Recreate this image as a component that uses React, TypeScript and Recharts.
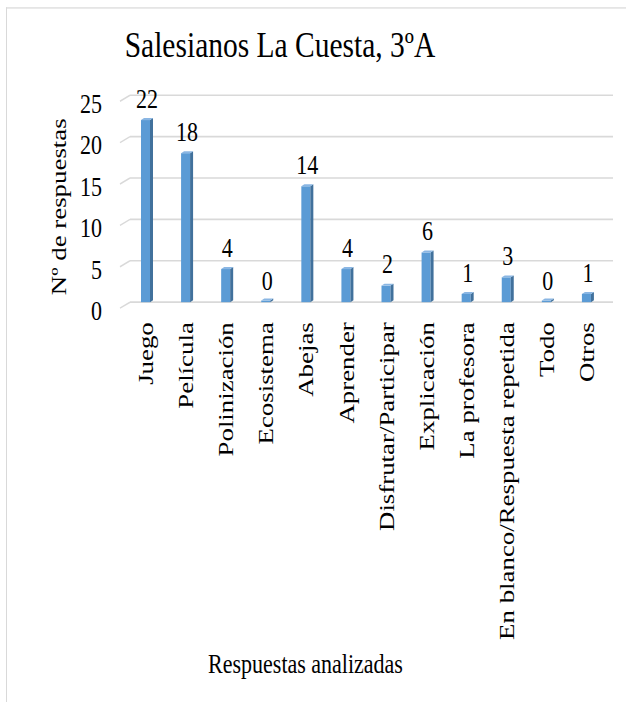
import { BarChart, Bar, XAxis, YAxis, CartesianGrid, LabelList, Label } from "recharts";

const categories = [
  "Juego",
  "Película",
  "Polinización",
  "Ecosistema",
  "Abejas",
  "Aprender",
  "Disfrutar/Participar",
  "Explicación",
  "La profesora",
  "En blanco/Respuesta repetida",
  "Todo",
  "Otros",
];
const respuestas = [22, 18, 4, 0, 14, 4, 2, 6, 1, 3, 0, 1];
const yTicks = [0, 5, 10, 15, 20, 25];

const chartData = categories.map((name, i) => ({ name, value: respuestas[i] }));

const FONT = "Liberation Serif, Times New Roman, serif";
// the source picture is stretched vertically, so the chart is drawn shorter and scaled up
const H = 575;
const STRETCH = 702 / H;

// 3D-ish column like the Excel one: front face, darker right side, lighter top
const Column3D = (props: any) => {
  const { x, y, width, height } = props;
  const depth = 3;
  const skew = 1.6;
  const front = width - depth;
  const h = Math.max(height, 1.3);
  const top = y + height - h;
  return (
    <g>
      <rect x={x} y={top} width={front} height={h} fill="#5B9BD5" />
      <polygon
        points={`${x + front},${top} ${x + width},${top - skew} ${x + width},${top + h - skew} ${x + front},${top + h}`}
        fill="#41719C"
      />
      <polygon
        points={`${x},${top} ${x + depth},${top - skew} ${x + width},${top - skew} ${x + front},${top}`}
        fill="#8AB6E3"
      />
    </g>
  );
};

const GridLine = (props: any) => {
  const { x1, x2, y1 } = props;
  return (
    <g>
      <line x1={x1 + 3} x2={x2 + 5} y1={y1} y2={y1} stroke="#D9D9D9" strokeWidth={1.3} />
      <line x1={x1 - 7} x2={x1 + 3} y1={y1 + 4.9} y2={y1} stroke="#D9D9D9" strokeWidth={1.3} />
    </g>
  );
};

const YTick = (props: any) => {
  const { x, y, payload } = props;
  return (
    <text x={x} y={y + 7} textAnchor="end" dominantBaseline="central" fontFamily={FONT} fontSize={22} fill="#000">
      {payload.value}
    </text>
  );
};

const XTick = (props: any) => {
  const { x, y, payload } = props;
  return (
    <text
      x={x - 1.5}
      y={y}
      transform={`rotate(-90 ${x - 1.5} ${y})`}
      textAnchor="end"
      dominantBaseline="central"
      fontFamily={FONT}
      fontSize={22}
      fill="#000"
    >
      {payload.value}
    </text>
  );
};

export default function App() {
  return (
    <div style={{ position: "absolute", left: 0, top: 0, width: 626, height: 702, overflow: "hidden", background: "#fff" }}>
      <div
        style={{
          position: "absolute",
          left: 0,
          top: 0,
          width: 626,
          height: H,
          transform: `scaleY(${STRETCH})`,
          transformOrigin: "0 0",
        }}
      >
        <div
          style={{
            position: "absolute",
            left: 6,
            top: 5.8,
            width: 620,
            height: H - 5.8,
            borderTop: "1.3px solid #D9D9D9",
            borderLeft: "1.5px solid #D9D9D9",
            boxSizing: "border-box",
          }}
        />
        <div
          style={{
            position: "absolute",
            left: 3,
            top: 21.5,
            width: 554,
            textAlign: "center",
            fontFamily: FONT,
            fontSize: 29.5,
            lineHeight: "30px",
            color: "#000",
            whiteSpace: "nowrap",
          }}
        >
          Salesianos La Cuesta, 3ºA
        </div>
        <div style={{ position: "absolute", left: 0, top: 0 }}>
          <BarChart
            width={626}
            height={H}
            data={chartData}
            margin={{ top: 78, right: 18, left: 0, bottom: 0 }}
            barCategoryGap={0}
          >
            <CartesianGrid vertical={false} horizontal={(p: any) => <GridLine key={p.key} {...p} />} />
            <YAxis
              width={127}
              domain={[0, 25]}
              ticks={yTicks}
              interval={0}
              axisLine={false}
              tickLine={false}
              tickSize={0}
              tickMargin={25}
              tick={<YTick />}
            >
              <Label
                content={(p: any) => {
                  const vb = p.viewBox;
                  const cx = 58;
                  const cy = vb.y + vb.height / 2 + 6.6;
                  return (
                    <text
                      x={cx}
                      y={cy}
                      transform={`rotate(-90 ${cx} ${cy})`}
                      textAnchor="middle"
                      dominantBaseline="central"
                      fontFamily={FONT}
                      fontSize={22}
                      fill="#000"
                    >
                      Nº de respuestas
                    </text>
                  );
                }}
              />
            </YAxis>
            <XAxis
              dataKey="name"
              height={H - 247.5}
              interval={0}
              axisLine={false}
              tickLine={false}
              tickSize={0}
              tickMargin={16.4}
              tick={<XTick />}
            >
              <Label
                content={(p: any) => {
                  const vb = p.viewBox;
                  return (
                    <text
                      x={vb.x + vb.width / 2 - 62}
                      y={vb.y + 304}
                      textAnchor="middle"
                      fontFamily={FONT}
                      fontSize={22}
                      fill="#000"
                    >
                      Respuestas analizadas
                    </text>
                  );
                }}
              />
            </XAxis>
            <Bar dataKey="value" barSize={12} shape={<Column3D />} isAnimationActive={false}>
              <LabelList
                dataKey="value"
                position="top"
                offset={10}
                style={{ fontFamily: FONT, fontSize: 22, fill: "#000" }}
              />
            </Bar>
          </BarChart>
        </div>
      </div>
    </div>
  );
}
